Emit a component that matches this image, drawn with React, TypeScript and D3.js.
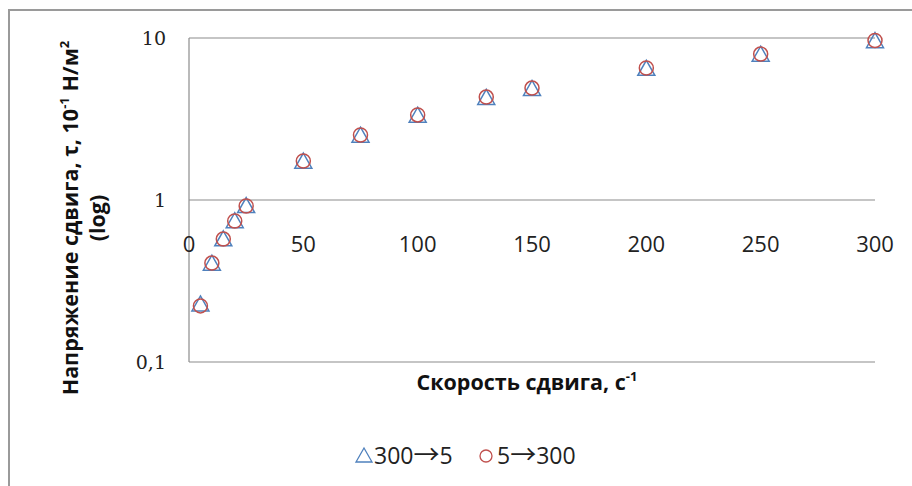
import React from "react";
import * as d3 from "d3";

const shearRate = [5, 10, 15, 20, 25, 50, 75, 100, 130, 150, 200, 250, 300];
const stressDown = [0.23, 0.41, 0.58, 0.75, 0.93, 1.75, 2.53, 3.36, 4.33, 4.92, 6.55, 8.0, 9.7]; // 300→5
const stressUp = [0.222, 0.408, 0.574, 0.742, 0.918, 1.74, 2.52, 3.35, 4.32, 4.91, 6.53, 7.96, 9.65]; // 5→300
const xTicks = [0, 50, 100, 150, 200, 250, 300];
const yTicks = [0.1, 1, 10];
const yTickLabels = ["0,1", "1", "10"];
const legendFrom = ["300", "5"];
const legendTo = ["5", "300"];

const W = 912;
const H = 486;
const BLUE = "#4F81BD";
const RED = "#C0504D";

function triPath(cx: number, cy: number, w: number, h: number) {
  const p = d3.path();
  p.moveTo(cx, cy - h / 2);
  p.lineTo(cx + w / 2, cy + h / 2);
  p.lineTo(cx - w / 2, cy + h / 2);
  p.closePath();
  return p.toString();
}

export default function App() {
  const x = d3.scaleLinear().domain([0, 300]).range([189, 875]);
  const y = d3.scaleLog().domain([0.1, 10]).range([362, 38]);
  const sans = "'Open Sans', 'Noto Sans', sans-serif";
  const serif = "'DejaVu Serif', serif";
  const arrowFont = "'Noto Sans CJK SC', 'DejaVu Sans', sans-serif";

  return (
    <svg
      width={W}
      height={H}
      style={{ position: "fixed", left: 0, top: 0, background: "#fff" }}
    >
      <rect x={9} y={10} width={W + 20} height={H + 20} fill="#fff" stroke="#9a9a9a" strokeWidth={2} />
      {/* grid lines */}
      {yTicks.map((t) => (
        <line key={t} x1={x(0)} x2={x(300)} y1={y(t)} y2={y(t)} stroke="#8c8c8c" strokeWidth={1.2} />
      ))}
      <line x1={x(0)} x2={x(0)} y1={y(10)} y2={y(0.1)} stroke="#8c8c8c" strokeWidth={1.2} />
      {/* y tick labels */}
      {yTicks.map((t, i) => (
        <text key={t} x={166} y={y(t) + 7} textAnchor="end" fontFamily={serif} fontSize={19} fill="#222">
          {yTickLabels[i]}
        </text>
      ))}
      {/* x tick labels */}
      {xTicks.map((t) => (
        <text key={t} x={x(t)} y={y(1) + 52} textAnchor="middle" fontFamily={sans} fontSize={22} fill="#222">
          {t}
        </text>
      ))}
      {/* markers */}
      {shearRate.map((s, i) => (
        <path key={"t" + s} d={triPath(x(s), y(stressDown[i]), 17, 15)} fill="none" stroke={BLUE} strokeWidth={1.5} />
      ))}
      {shearRate.map((s, i) => (
        <circle key={"c" + s} cx={x(s)} cy={y(stressUp[i])} r={7} fill="none" stroke={RED} strokeWidth={1.5} />
      ))}
      {/* x axis title */}
      <text x={527} y={390} textAnchor="middle" fontFamily={sans} fontSize={21.5} fontWeight="bold" fill="#111">
        Скорость сдвига, с<tspan fontSize={13} dy={-9}>-1</tspan>
      </text>
      {/* y axis title */}
      <g transform="translate(78,218) rotate(-90)">
        <text x={0} y={0} textAnchor="middle" fontFamily={sans} fontSize={21.5} fontWeight="bold" fill="#111">
          Напряжение сдвига, τ, 10<tspan fontSize={13} dy={-9}>-1</tspan>
          <tspan dy={9}> Н/м</tspan>
          <tspan fontSize={13} dy={-9}>2</tspan>
        </text>
        <text x={0} y={27} textAnchor="middle" fontFamily={sans} fontSize={21.5} fontWeight="bold" fill="#111">
          (log)
        </text>
      </g>
      {/* legend */}
      <path d={triPath(364, 455, 16, 14)} fill="none" stroke={BLUE} strokeWidth={1.3} />
      <text x={374} y={464} fontFamily={sans} fontSize={23} fill="#222">
        {legendFrom[0]}
        <tspan fontFamily={arrowFont} fontSize={26}>→</tspan>
        {legendTo[0]}
      </text>
      <circle cx={486} cy={456} r={6} fill="none" stroke={RED} strokeWidth={1.3} />
      <text x={497} y={464} fontFamily={sans} fontSize={23} fill="#222">
        {legendFrom[1]}
        <tspan fontFamily={arrowFont} fontSize={26}>→</tspan>
        {legendTo[1]}
      </text>
    </svg>
  );
}
